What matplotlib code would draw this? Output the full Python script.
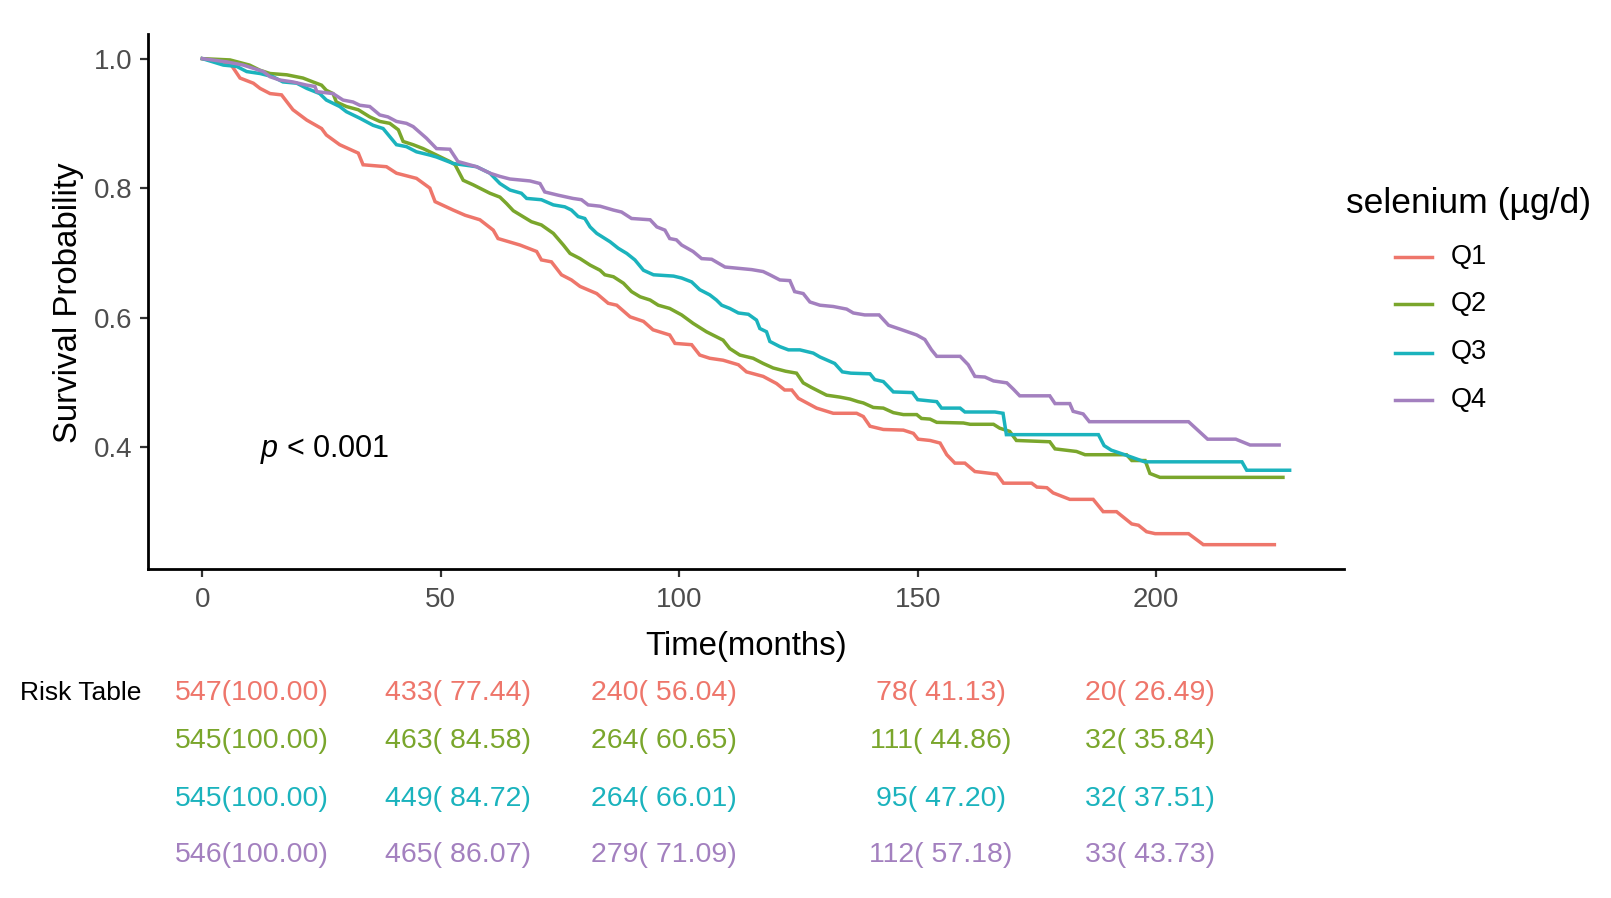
import matplotlib
matplotlib.use("Agg")
import matplotlib.pyplot as plt
from matplotlib.lines import Line2D

plt.rcParams['font.family'] = ['Liberation Sans', 'DejaVu Sans']
plt.rcParams['mathtext.fontset'] = 'custom'
plt.rcParams['mathtext.it'] = 'Liberation Sans:italic'
plt.rcParams['mathtext.rm'] = 'Liberation Sans'

# Kaplan-Meier curves (time in months, survival)
q1 = [(0, 1.0), (5.8, 0.993), (7.9, 0.970), (10.7, 0.962), (12.1, 0.954), (14.2, 0.946), (16.6, 0.944),
      (19.0, 0.921), (21.9, 0.905), (25.0, 0.892), (26.0, 0.882), (28.8, 0.867), (32.7, 0.854), (33.7, 0.836),
      (38.6, 0.833), (40.7, 0.823), (44.9, 0.815), (47.7, 0.800), (48.8, 0.779), (52.6, 0.766), (55.1, 0.758),
      (58.2, 0.751), (61.0, 0.735), (62.0, 0.722), (66.6, 0.712), (70.1, 0.702), (71.1, 0.689), (73.2, 0.686),
      (75.3, 0.666), (77.4, 0.658), (79.2, 0.648), (82.7, 0.637), (85.1, 0.622), (86.9, 0.619), (89.7, 0.601),
      (92.5, 0.594), (94.5, 0.581), (98.0, 0.573), (99.1, 0.560), (102.6, 0.558), (104.3, 0.542), (106.4, 0.537),
      (109.2, 0.534), (112.4, 0.527), (114.1, 0.516), (117.6, 0.509), (120.4, 0.498), (122.1, 0.488),
      (123.6, 0.488), (125.0, 0.475), (128.8, 0.460), (132.3, 0.452), (137.2, 0.452), (138.6, 0.447),
      (140.0, 0.432), (142.8, 0.427), (147.0, 0.426), (149.1, 0.421), (150.1, 0.412), (152.6, 0.410),
      (154.7, 0.406), (156.1, 0.388), (157.8, 0.375), (159.9, 0.375), (162.0, 0.362), (166.6, 0.358),
      (168.0, 0.344), (173.9, 0.344), (175.0, 0.338), (177.1, 0.337), (178.4, 0.329), (181.9, 0.319),
      (186.8, 0.319), (188.9, 0.300), (191.7, 0.300), (194.9, 0.281), (196.3, 0.279), (198.0, 0.269),
      (199.8, 0.266), (206.8, 0.266), (209.9, 0.249), (224.8, 0.249)]

q2 = [(0, 1.0), (5.8, 0.998), (9.9, 0.990), (12.1, 0.982), (14.2, 0.977), (17.7, 0.975), (21.1, 0.970),
      (23.2, 0.964), (25.0, 0.959), (26.0, 0.951), (27.4, 0.946), (28.1, 0.933), (30.2, 0.926), (32.7, 0.921),
      (35.1, 0.910), (37.2, 0.903), (39.3, 0.900), (41.1, 0.890), (42.1, 0.872), (44.2, 0.867), (46.3, 0.861),
      (49.1, 0.851), (51.9, 0.841), (53.0, 0.836), (54.7, 0.812), (56.8, 0.805), (60.3, 0.792), (62.4, 0.786),
      (63.8, 0.776), (65.2, 0.765), (69.0, 0.748), (71.1, 0.743), (73.6, 0.730), (75.7, 0.712), (77.1, 0.699),
      (79.2, 0.691), (81.3, 0.681), (83.4, 0.673), (84.4, 0.666), (86.2, 0.663), (88.3, 0.653), (90.0, 0.640),
      (91.8, 0.632), (93.9, 0.627), (95.6, 0.619), (98.0, 0.614), (100.5, 0.604), (102.9, 0.591),
      (105.7, 0.578), (109.2, 0.565), (110.6, 0.552), (112.7, 0.542), (115.5, 0.537), (117.6, 0.529),
      (119.7, 0.522), (122.3, 0.517), (124.6, 0.514), (126.0, 0.499), (127.7, 0.492), (130.9, 0.480),
      (133.7, 0.477), (135.8, 0.474), (137.5, 0.470), (138.6, 0.468), (140.7, 0.461), (142.8, 0.460),
      (144.9, 0.453), (147.0, 0.450), (149.8, 0.450), (150.8, 0.444), (152.6, 0.443), (154.0, 0.438),
      (159.6, 0.437), (161.0, 0.435), (165.9, 0.435), (167.2, 0.429), (169.3, 0.424), (170.7, 0.410),
      (177.7, 0.408), (178.8, 0.397), (183.3, 0.393), (185.1, 0.388), (193.8, 0.388), (194.9, 0.379),
      (197.7, 0.379), (198.7, 0.359), (200.8, 0.353), (226.6, 0.353)]

q3 = [(0, 1.0), (4.4, 0.990), (7.2, 0.988), (9.3, 0.980), (12.1, 0.977), (14.8, 0.972), (16.9, 0.964),
      (19.8, 0.962), (21.9, 0.954), (24.6, 0.946), (26.0, 0.936), (28.8, 0.926), (30.2, 0.918), (33.0, 0.908),
      (35.8, 0.897), (37.9, 0.892), (40.7, 0.867), (42.8, 0.864), (44.9, 0.856), (47.7, 0.851), (49.1, 0.848),
      (52.6, 0.838), (57.5, 0.833), (60.3, 0.823), (62.4, 0.807), (64.5, 0.797), (66.9, 0.792), (68.0, 0.784),
      (71.1, 0.782), (73.6, 0.774), (76.0, 0.771), (77.4, 0.766), (78.8, 0.756), (80.2, 0.753), (81.3, 0.740),
      (82.7, 0.730), (85.5, 0.717), (87.2, 0.707), (89.0, 0.699), (90.7, 0.689), (92.5, 0.673), (94.6, 0.666),
      (98.8, 0.664), (100.5, 0.661), (102.6, 0.655), (104.3, 0.643), (106.4, 0.635), (107.8, 0.627),
      (108.9, 0.619), (110.6, 0.614), (112.4, 0.607), (114.5, 0.605), (116.2, 0.596), (116.9, 0.583),
      (118.3, 0.578), (119.0, 0.563), (121.1, 0.555), (122.9, 0.550), (125.3, 0.550), (128.1, 0.545),
      (129.5, 0.539), (132.6, 0.529), (134.2, 0.516), (136.0, 0.514), (140.0, 0.513), (141.0, 0.504),
      (142.8, 0.501), (144.9, 0.485), (148.9, 0.484), (150.0, 0.473), (154.0, 0.470), (155.0, 0.460),
      (158.9, 0.460), (159.9, 0.454), (166.2, 0.454), (167.9, 0.452), (168.6, 0.419), (187.9, 0.419),
      (189.1, 0.402), (190.6, 0.395), (193.8, 0.387), (197.6, 0.377), (218.0, 0.377), (219.0, 0.364),
      (228.0, 0.364)]

q4 = [(0, 1.0), (5.1, 0.995), (8.6, 0.990), (10.7, 0.985), (12.8, 0.980), (14.2, 0.972), (16.2, 0.967),
      (19.0, 0.964), (21.9, 0.959), (23.6, 0.957), (24.0, 0.949), (27.4, 0.946), (29.5, 0.936), (31.6, 0.933),
      (33.0, 0.928), (35.1, 0.926), (37.2, 0.913), (38.9, 0.910), (40.7, 0.903), (42.8, 0.900), (44.2, 0.895),
      (47.0, 0.877), (49.1, 0.861), (51.9, 0.860), (53.6, 0.841), (57.5, 0.833), (60.3, 0.823), (62.4, 0.818),
      (64.5, 0.814), (68.7, 0.811), (70.8, 0.807), (71.8, 0.794), (74.6, 0.789), (77.7, 0.784), (79.5, 0.782),
      (80.9, 0.774), (83.4, 0.772), (86.2, 0.766), (87.9, 0.763), (90.0, 0.753), (93.9, 0.751), (95.3, 0.740),
      (97.0, 0.735), (98.0, 0.722), (99.4, 0.720), (100.5, 0.712), (102.9, 0.702), (104.7, 0.691),
      (106.8, 0.690), (109.6, 0.678), (112.4, 0.676), (115.2, 0.674), (117.6, 0.671), (119.0, 0.666),
      (121.1, 0.658), (123.2, 0.657), (124.2, 0.640), (126.0, 0.637), (127.4, 0.624), (129.5, 0.619),
      (132.3, 0.617), (135.1, 0.613), (136.5, 0.607), (138.9, 0.604), (141.9, 0.604), (143.9, 0.588),
      (146.3, 0.582), (149.8, 0.573), (151.5, 0.566), (152.9, 0.550), (154.0, 0.540), (158.9, 0.540),
      (160.6, 0.527), (162.0, 0.509), (164.1, 0.508), (165.9, 0.502), (168.7, 0.499), (170.1, 0.489),
      (171.4, 0.479), (177.7, 0.479), (178.8, 0.467), (181.9, 0.467), (182.6, 0.455), (184.7, 0.451),
      (186.0, 0.439), (206.8, 0.439), (210.8, 0.412), (216.7, 0.412), (219.7, 0.403), (225.8, 0.403)]

groups = ['Q1', 'Q2', 'Q3', 'Q4']
colors = ['#EE766B', '#7AA62C', '#1BB3BD', '#A380BF']

# numbers at risk (n and survival %) shown under the plot
risk_n = [[547, 433, 240, 78, 20],
          [545, 463, 264, 111, 32],
          [545, 449, 264, 95, 32],
          [546, 465, 279, 112, 33]]
risk_pct = [[100.00, 77.44, 56.04, 41.13, 26.49],
            [100.00, 84.58, 60.65, 44.86, 35.84],
            [100.00, 84.72, 66.01, 47.20, 37.51],
            [100.00, 86.07, 71.09, 57.18, 43.73]]

W, H = 1611, 898
fig = plt.figure(figsize=(W / 100, H / 100), dpi=100)

def fx(px):
    return px / W

def fy(py):
    return 1 - py / H

ax = fig.add_axes([fx(148), fy(569), fx(1344) - fx(148), fy(34.3) - fy(569)])

for curve, c in zip([q1, q2, q3, q4], colors):
    t = [p[0] for p in curve]
    s = [p[1] for p in curve]
    ax.plot(t, s, color=c, lw=2.5, solid_joinstyle='miter')

ax.set_xlim(-11.4, 239.4)
ax.set_ylim(0.2114, 1.0376)
ax.set_xticks([0, 50, 100, 150, 200])
ax.set_yticks([0.4, 0.6, 0.8, 1.0])
ax.set_yticklabels(['0.4', '0.6', '0.8', '1.0'])
for side in ['top', 'right']:
    ax.spines[side].set_visible(False)
for side in ['left', 'bottom']:
    ax.spines[side].set_linewidth(2.0)
ax.tick_params(axis='both', length=6, width=1.6, labelsize=20, labelcolor='#4D4D4D', color='#333333')
ax.tick_params(axis='y', pad=5)
ax.tick_params(axis='x', pad=7)

fig.text(fx(69), fy(303), 'Survival Probability', rotation=90, ha='center', va='center', fontsize=23.8)
fig.text(fx(746), fy(646), 'Time(months)', ha='center', va='center', fontsize=23.8)

ax.text((260 - 148) / 1196, (569 - 450) / 534.7, r'$p$ < 0.001', transform=ax.transAxes,
        ha='left', va='center', fontsize=22)

# legend
fig.text(fx(1346), fy(204), 'selenium (µg/d)', ha='left', va='center', fontsize=25.5)
key_y = [257, 304, 352.5, 400]
for g, c, yy in zip(groups, colors, key_y):
    fig.add_artist(Line2D([fx(1395), fx(1432)], [fy(yy), fy(yy)], transform=fig.transFigure, color=c, lw=2.5))
    fig.text(fx(1451), fy(yy), g, ha='left', va='center', fontsize=19.5)

# risk table
fig.text(fx(20.5), fy(693), 'Risk Table', ha='left', va='center', fontsize=19)
col_x = [252, 458, 664, 941, 1150]
row_y = [693, 741, 799, 855]
for i in range(4):
    for j in range(5):
        fig.text(fx(col_x[j]), fy(row_y[i]), '%d(%6.2f)' % (risk_n[i][j], risk_pct[i][j]),
                 ha='center', va='center', fontsize=20.5, color=colors[i])

fig.savefig('out.png', dpi=100)
